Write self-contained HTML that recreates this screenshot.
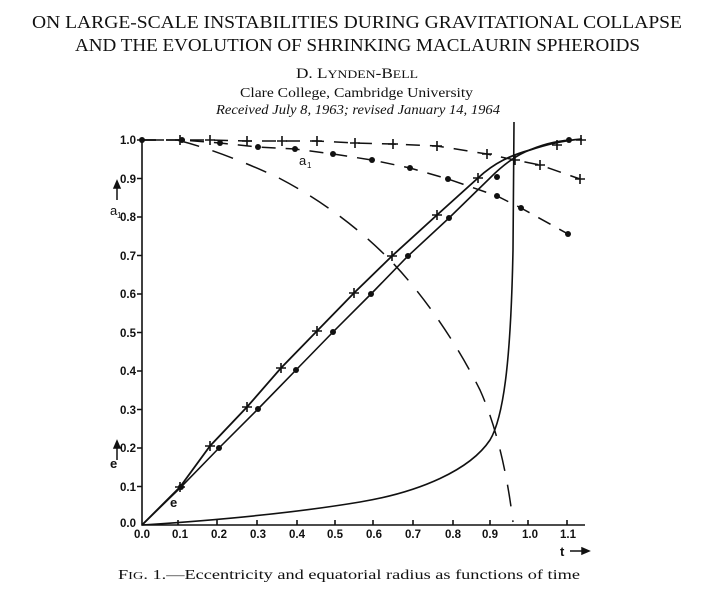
<!DOCTYPE html>
<html><head><meta charset="utf-8"><style>
html,body{margin:0;padding:0;background:#fff;}
svg{display:block;}
</style></head><body>
<svg width="714" height="599" viewBox="0 0 714 599" xmlns="http://www.w3.org/2000/svg">
<g font-family="Liberation Serif, serif" fill="#111">
<text x="32" y="28" font-size="18" textLength="650" lengthAdjust="spacingAndGlyphs">ON LARGE-SCALE INSTABILITIES DURING GRAVITATIONAL COLLAPSE</text>
<text x="75" y="51" font-size="18" textLength="565" lengthAdjust="spacingAndGlyphs">AND THE EVOLUTION OF SHRINKING MACLAURIN SPHEROIDS</text>
<text x="296" y="78" font-size="15" textLength="122" lengthAdjust="spacingAndGlyphs">D. L<tspan font-size="12">YNDEN</tspan>-B<tspan font-size="12">ELL</tspan></text>
<text x="240" y="97" font-size="14" textLength="233" lengthAdjust="spacingAndGlyphs">Clare College, Cambridge University</text>
<text x="216" y="114" font-size="14" font-style="italic" textLength="284" lengthAdjust="spacingAndGlyphs">Received July 8, 1963; revised January 14, 1964</text>
<text x="118" y="579" font-size="14" textLength="462" lengthAdjust="spacingAndGlyphs">F<tspan font-size="11">IG</tspan>. 1.—Eccentricity and equatorial radius as functions of time</text>
</g>
<g stroke="#111" fill="none" stroke-width="1.6">
<path d="M142,140 V525 H585"/>
<path d="M137,140h5M137,178.5h5M137,217h5M137,255.5h5M137,294h5M137,332.5h5M137,371h5M137,409.5h5M137,448h5M137,486.5h5"/>
<path d="M178,525v-5M217,525v-5M257,525v-5M297,525v-5M335,525v-5M373,525v-5M413,525v-5M453,525v-5M490,525v-5M528,525v-5M567,525v-5"/>
<path d="M142,525 C220,520 300,512 360,502 C420,492 470,470 490,440 C505,415 511,350 513,250 L514,122" stroke-width="1.6"/>
<path d="M142,525 L180,487 L210,446 L247,407 L281,368 L317,331 L354,293 L392,256 L437,215 L478,178 C495,162 512,155 530,150 C545,145 560,141 582,139" stroke-width="1.8"/>
<path d="M142,525 L181,487 L219,448 L258,409 L296,370 L333,332 L371,294 L408,256 L449,218 L490,178 C500,168 512,158 525,152 C540,145 555,141 570,140" stroke-width="1.6"/>
<path d="M142,140 L177,140 C205,147 240,160 277,177 C310,194 350,220 387,257 C420,290 455,340 480,390 C498,430 508,480 513,522" stroke-dasharray="22,14" stroke-width="1.5"/>
<path d="M142,140 L182,140 L220,143 L258,147 L295,149 L333,154 L372,160 L410,168 L448,179 L497,196 L521,208 L568,234" stroke-dasharray="14,10" stroke-width="1.5"/>
<path d="M142,140 L180,140 L210,140 L247,141 L282,141 L317,141 L355,143 L393,144 L437,146 L487,154 L515,160 L540,165 L580,179" stroke-dasharray="14,10" stroke-width="1.5"/>
</g>
<g fill="#111">
<circle cx="142" cy="140" r="3"/><circle cx="182" cy="140" r="3"/><circle cx="220" cy="143" r="3"/><circle cx="258" cy="147" r="3"/><circle cx="295" cy="149" r="3"/><circle cx="333" cy="154" r="3"/><circle cx="372" cy="160" r="3"/><circle cx="410" cy="168" r="3"/><circle cx="448" cy="179" r="3"/><circle cx="497" cy="196" r="3"/><circle cx="521" cy="208" r="3"/><circle cx="568" cy="234" r="3"/>
<circle cx="181" cy="487" r="3"/><circle cx="219" cy="448" r="3"/><circle cx="258" cy="409" r="3"/><circle cx="296" cy="370" r="3"/><circle cx="333" cy="332" r="3"/><circle cx="371" cy="294" r="3"/><circle cx="408" cy="256" r="3"/><circle cx="449" cy="218" r="3"/><circle cx="497" cy="177" r="3"/><circle cx="569" cy="140" r="3"/>
</g>
<g stroke="#111" stroke-width="1.6">
<path d="M175,487h10M180,482v10 M205,446h10M210,441v10 M242,407h10M247,402v10 M276,368h10M281,363v10 M312,331h10M317,326v10 M349,293h10M354,288v10 M387,256h10M392,251v10 M432,215h10M437,210v10 M473,178h10M478,173v10 M552,145h10M557,140v10 M576,140h10M581,135v10"/>
<path d="M175,140h10M180,135v10 M205,140h10M210,135v10 M242,141h10M247,136v10 M277,141h10M282,136v10 M312,141h10M317,136v10 M350,143h10M355,138v10 M388,144h10M393,139v10 M432,146h10M437,141v10 M482,154h10M487,149v10 M510,160h10M515,155v10 M535,165h10M540,160v10 M575,179h10M580,174v10"/>
</g>
<g font-family="Liberation Sans, sans-serif" font-size="11.5" font-weight="bold" fill="#111">
<g text-anchor="end">
<text x="136" y="144">1.0</text><text x="136" y="183">0.9</text><text x="136" y="221">0.8</text><text x="136" y="260">0.7</text><text x="136" y="298">0.6</text><text x="136" y="337">0.5</text><text x="136" y="375">0.4</text><text x="136" y="414">0.3</text><text x="136" y="452">0.2</text><text x="136" y="491">0.1</text><text x="136" y="527">0.0</text>
</g>
<g text-anchor="middle">
<text x="142" y="538">0.0</text><text x="180" y="538">0.1</text><text x="219" y="538">0.2</text><text x="258" y="538">0.3</text><text x="297" y="538">0.4</text><text x="335" y="538">0.5</text><text x="374" y="538">0.6</text><text x="413" y="538">0.7</text><text x="453" y="538">0.8</text><text x="490" y="538">0.9</text><text x="530" y="538">1.0</text><text x="568" y="538">1.1</text>
</g>
<text x="299" y="165" font-size="13" font-weight="normal">a</text><text x="307" y="168" font-size="8" font-weight="normal">1</text>
<text x="110" y="215" font-size="13" font-weight="normal">a</text><text x="117" y="218" font-size="8" font-weight="normal">1</text>
<text x="110" y="468" font-size="13">e</text>
<text x="170" y="507" font-size="13">e</text>
<text x="560" y="556" font-size="13">t</text>
</g>
<g stroke="#111" stroke-width="1.5" fill="#111">
<path d="M117,200V186" fill="none"/><path d="M114,188l3,-7l3,7z"/>
<path d="M117,460V446" fill="none"/><path d="M114,448l3,-7l3,7z"/>
<path d="M570,551h14" fill="none"/><path d="M582,548l7,3l-7,3z"/>
</g>
</svg>
</body></html>
